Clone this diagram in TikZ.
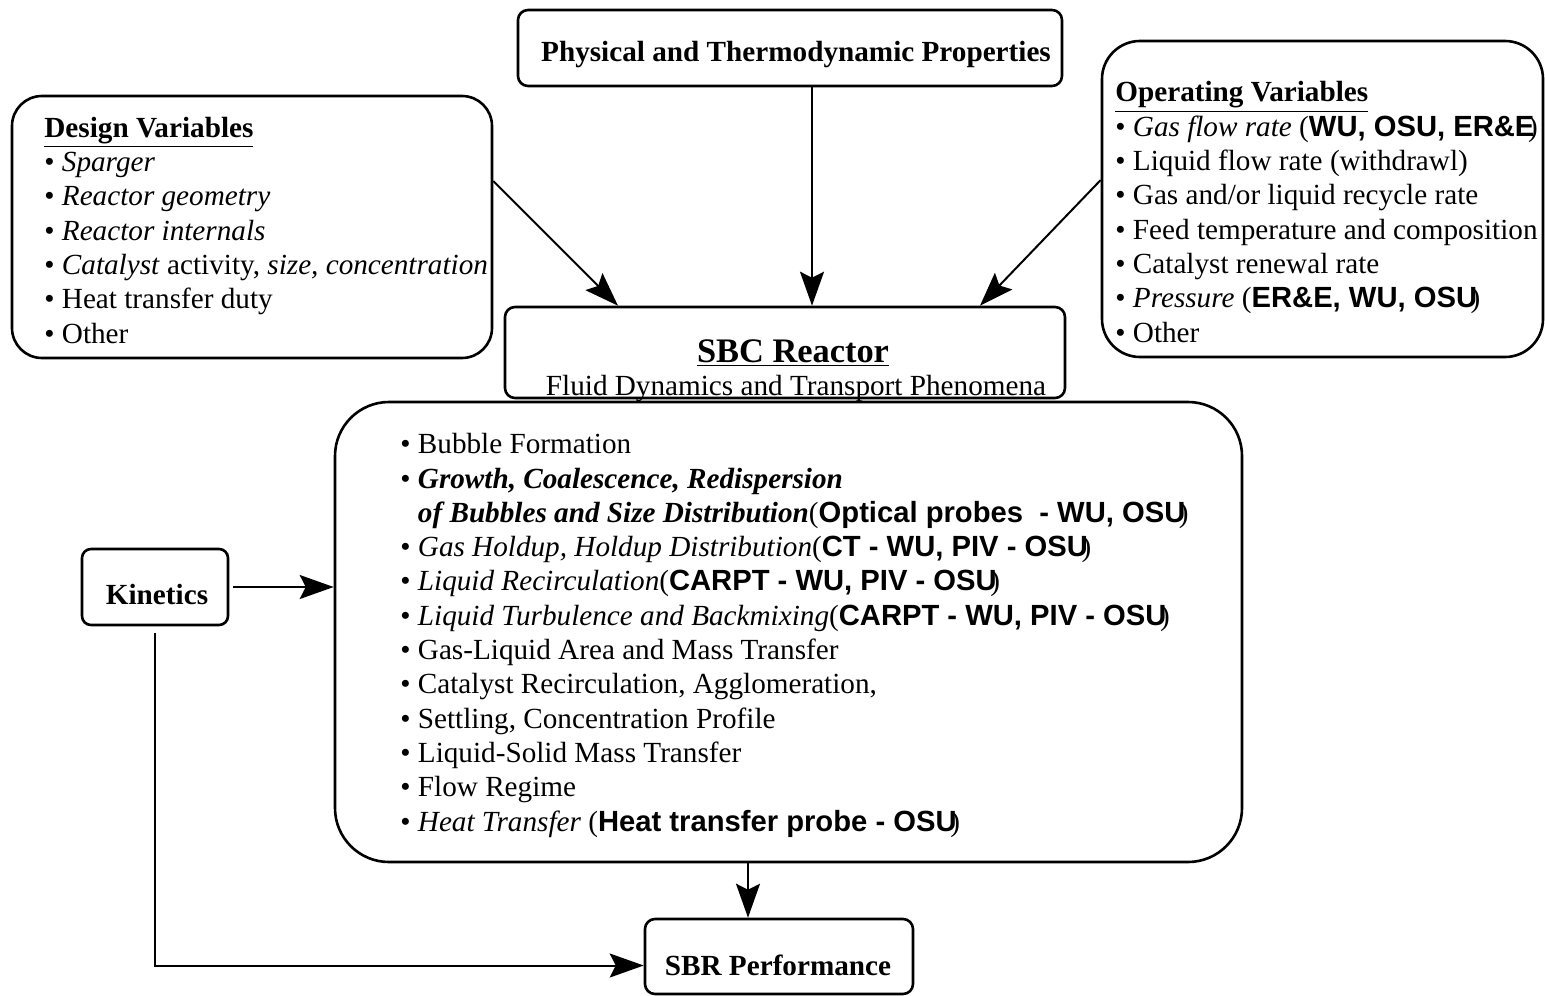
\documentclass[tikz,border=0pt]{standalone}
\usepackage{fontspec}
\setmainfont{Liberation Serif}
\setsansfont{Liberation Sans}
\usetikzlibrary{arrows.meta,calc}
\newcommand{\lab}[1]{{\sffamily\bfseries #1}\kern-0.22em)}
\begin{document}
\begin{tikzpicture}[x=0.5pt,y=-0.5pt,
  box/.style={draw, line width=1.3pt, inner sep=0pt},
  arr/.style={line width=1pt, -{Stealth[length=17pt,width=12pt,inset=3pt]}},
  txt/.style={inner sep=0pt, align=left, anchor=base west, font=\fontsize{14.6pt}{17.15pt}\selectfont},
  single/.style={inner sep=0pt, anchor=base, font=\fontsize{14.6pt}{17.15pt}\selectfont},
]
\useasboundingbox (0,0) rectangle (1545,995);

% boxes
\node[box, rounded corners=5pt, minimum width=272pt, minimum height=38pt] (phys) at (790,48) {};
\node[box, rounded corners=15pt, minimum width=240pt, minimum height=131pt] (design) at (252,227) {};
\node[box, rounded corners=19pt, minimum width=220.5pt, minimum height=158pt] (oper) at (1322.5,199) {};
\node[box, rounded corners=5pt, minimum width=280pt, minimum height=45.5pt] (sbc) at (785,352.5) {};
\node[box, rounded corners=27pt, minimum width=453.5pt, minimum height=230pt] (big) at (788.5,632) {};
\node[box, rounded corners=4.5pt, minimum width=73pt, minimum height=38pt] (kin) at (155,587) {};
\node[box, rounded corners=5pt, minimum width=134pt, minimum height=37.5pt] (sbr) at (779,956.5) {};

% texts
\node[single, font=\bfseries\fontsize{14.6pt}{17.15pt}\selectfont] (physT) at (796,62) {Physical and Thermodynamic Properties};
\node[single, font=\bfseries\fontsize{14.6pt}{17.15pt}\selectfont] (kinT) at (157,604) {Kinetics};
\node[single, font=\bfseries\fontsize{14.6pt}{17.15pt}\selectfont] (sbrT) at (778,975) {SBR Performance};
\node[single, font=\bfseries\fontsize{17.2pt}{20pt}\selectfont] (sbcT) at (793,362) {\underline{SBC Reactor}};
\node[single] (sbcF) at (796,395) {Fluid Dynamics and Transport Phenomena};

\node[txt] (designT) at (44,343) {\underline{\textbf{Design Variables}}\\
\textbullet{} \textit{Sparger}\\
\textbullet{} \textit{Reactor geometry}\\
\textbullet{} \textit{Reactor internals}\\
\textbullet{} \textit{Catalyst} activity, \textit{size, concentration}\\
\textbullet{} Heat transfer duty\\
\textbullet{} Other};

\node[txt] (operT) at (1115,342) {\underline{\textbf{Operating Variables}}\\
\textbullet{} \textit{Gas flow rate} (\lab{WU, OSU, ER\&E}\\
\textbullet{} Liquid flow rate (withdrawl)\\
\textbullet{} Gas and/or liquid recycle rate\\
\textbullet{} Feed temperature and composition\\
\textbullet{} Catalyst renewal rate\\
\textbullet{} \textit{Pressure} (\lab{ER\&E, WU, OSU}\\
\textbullet{} Other};

\node[txt] (bigT) at (400,831) {\textbullet{} Bubble Formation\\
\textbullet{} \textbf{\textit{Growth, Coalescence, Redispersion}}\\
\hphantom{\textbullet{} }\textbf{\textit{of Bubbles and Size Distribution}}(\lab{Optical probes\ \ - WU, OSU}\\
\textbullet{} \textit{Gas Holdup, Holdup Distribution}(\lab{CT - WU, PIV - OSU}\\
\textbullet{} \textit{Liquid Recirculation}(\lab{CARPT - WU, PIV - OSU}\\
\textbullet{} \textit{Liquid Turbulence and Backmixing}(\lab{CARPT - WU, PIV - OSU}\\
\textbullet{} Gas-Liquid Area and Mass Transfer\\
\textbullet{} Catalyst Recirculation, Agglomeration,\\
\textbullet{} Settling, Concentration Profile\\
\textbullet{} Liquid-Solid Mass Transfer\\
\textbullet{} Flow Regime\\
\textbullet{} \textit{Heat Transfer} (\lab{Heat transfer probe - OSU}};

% connectors
\draw[arr] (phys.south -| 812,0) -- (sbc.north -| 812,0);
\draw[arr] (design.east |- 0,181) -- (sbc.north -| 618,0);
\draw[arr] (oper.west |- 0,180) -- (sbc.north -| 980,0);
\draw[arr] ([xshift=2pt]kin.east) -- (big.west |- kin.east);
\draw[arr] ([yshift=-3.5pt]kin.south) |- ([yshift=-4.5pt]sbr.west);
\draw[arr] (big.south -| 748,0) -- (sbr.north -| 748,0);
\end{tikzpicture}
\end{document}
